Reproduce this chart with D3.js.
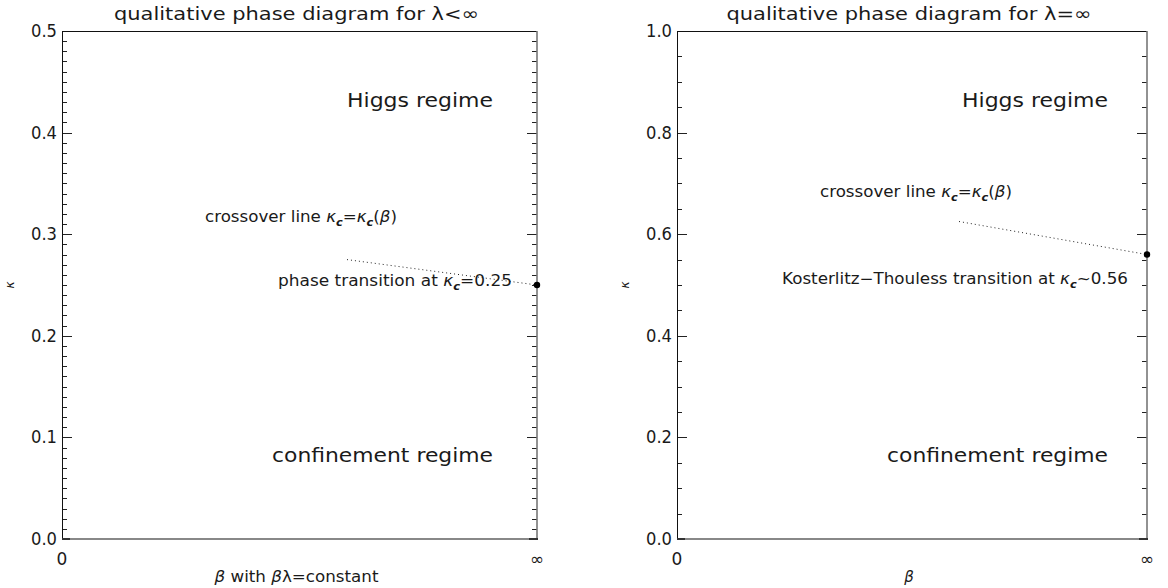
<!DOCTYPE html>
<html>
<head>
<meta charset="utf-8">
<script src="https://cdn.jsdelivr.net/npm/d3@7"></script>
<style>
  html, body { margin: 0; padding: 0; background: #fff; }
  svg text { font-family: "DejaVu Sans", sans-serif; fill: #1a1a1a; }
</style>
</head>
<body>
<svg id="chart" width="1168" height="588"></svg>
<script>
// beta axis runs from 0 to infinity, mapped onto [0, 1]
const betaTicks = [0, 1];
const betaTickLabels = ["0", "\u221e"];

// kappa axes
const kappaTicksLeft = [0.0, 0.1, 0.2, 0.3, 0.4, 0.5];
const kappaTicksRight = [0.0, 0.2, 0.4, 0.6, 0.8, 1.0];

// crossover lines (dotted) ending in the transition point
const crossoverLeft = [
  { beta: 0.6, kappa: 0.275 },
  { beta: 1.0, kappa: 0.25 }
];
const crossoverRight = [
  { beta: 0.6, kappa: 0.625 },
  { beta: 1.0, kappa: 0.56 }
];

const transitionLeft = { beta: 1.0, kappa: 0.25 };
const transitionRight = { beta: 1.0, kappa: 0.56 };

const svg = d3.select("#chart");

// rich text helper: segments with italic / bold / subscript flags
function richText(g, x, y, anchor, size, segs, len) {
  const t = g.append("text")
    .attr("x", x).attr("y", y)
    .attr("text-anchor", anchor)
    .attr("font-size", size);
  if (len) t.attr("textLength", len).attr("lengthAdjust", "spacingAndGlyphs");
  segs.forEach(s => {
    const ts = t.append("tspan").text(s.t);
    if (s.i) ts.attr("font-style", "italic");
    if (s.b) ts.attr("font-weight", "bold");
    if (s.sub) ts.attr("font-size", size * 0.68).attr("dy", size * 0.25);
    if (s.up) ts.attr("dy", -size * 0.25);
  });
  return t;
}

const kc = [
  { t: "\u03ba", i: true },
  { t: "c", i: true, b: true, sub: true }
];
const kcOfBeta = [
  ...kc, { t: "=", up: true }, ...kc, { t: "(", up: true }, { t: "\u03b2", i: true }, { t: ")" }
];

function panel(opts) {
  const g = svg.append("g");
  const x = d3.scaleLinear().domain([0, 1]).range([opts.x0, opts.x1]);
  const y = d3.scaleLinear().domain([0, opts.kmax]).range([opts.y1, opts.y0]);

  // minor and major ticks on left and right sides
  const minor = d3.range(0, opts.kmax + 1e-9, opts.minorStep)
    .filter(v => !opts.ticks.some(t => Math.abs(t - v) < 1e-9));
  const tickG = g.append("g").attr("stroke", "#222").attr("stroke-width", 1);
  [[opts.x0, 1], [opts.x1, -1]].forEach(([ax, dir]) => {
    tickG.selectAll(null).data(minor).enter().append("line")
      .attr("x1", ax).attr("x2", ax + dir * 5)
      .attr("y1", d => Math.round(y(d)) + 0.5).attr("y2", d => Math.round(y(d)) + 0.5);
    tickG.selectAll(null).data(opts.ticks).enter().append("line")
      .attr("x1", ax).attr("x2", ax + dir * 10)
      .attr("y1", d => Math.round(y(d)) + 0.5).attr("y2", d => Math.round(y(d)) + 0.5);
  });

  // frame
  g.append("line").attr("x1", opts.x0).attr("x2", opts.x1)
    .attr("y1", opts.y0 + 0.5).attr("y2", opts.y0 + 0.5)
    .attr("stroke", "#111").attr("stroke-width", 1);
  g.append("line").attr("x1", opts.x0 + 0.5).attr("x2", opts.x0 + 0.5)
    .attr("y1", opts.y0).attr("y2", opts.y1)
    .attr("stroke", "#111").attr("stroke-width", 1);
  g.append("line").attr("x1", opts.x1).attr("x2", opts.x1)
    .attr("y1", opts.y0).attr("y2", opts.y1 + 1)
    .attr("stroke", "#777").attr("stroke-width", 1.6);
  g.append("line").attr("x1", opts.x0).attr("x2", opts.x1 + 1)
    .attr("y1", opts.y1).attr("y2", opts.y1)
    .attr("stroke", "#888").attr("stroke-width", 2);
  // beta ticks at both ends of the bottom axis
  g.selectAll(null).data(betaTicks).enter().append("line")
    .attr("x1", d => x(d) + (d === 0 ? 0 : -8))
    .attr("x2", d => x(d) + (d === 0 ? 8 : 1))
    .attr("y1", opts.y1).attr("y2", opts.y1)
    .attr("stroke", "#333").attr("stroke-width", 2);

  // kappa tick labels
  g.selectAll(null).data(opts.ticks).enter().append("text")
    .attr("x", opts.x0 - 5).attr("y", d => y(d) + 6)
    .attr("text-anchor", "end").attr("font-size", 17)
    .attr("textLength", 26).attr("lengthAdjust", "spacingAndGlyphs")
    .text(d => d.toFixed(1));

  // beta tick labels
  g.selectAll(null).data(betaTicks).enter().append("text")
    .attr("x", d => x(d)).attr("y", opts.y1 + 26)
    .attr("text-anchor", "middle").attr("font-size", 17)
    .text((d, i) => betaTickLabels[i]);

  // axis titles
  g.append("text")
    .attr("transform", `translate(${opts.x0 - 48},${(opts.y0 + opts.y1) / 2}) rotate(-90)`)
    .attr("text-anchor", "middle").attr("font-size", 12).attr("font-style", "italic")
    .text("\u03ba");
  richText(g, (opts.x0 + opts.x1) / 2 - 3, 582, "middle", 15, opts.xTitle, opts.xTitleLen);

  // panel title
  richText(g, (opts.x0 + opts.x1) / 2 - 3, 20, "middle", 18, opts.title, 365);

  // crossover line
  g.append("path")
    .datum(opts.line)
    .attr("d", d3.line().x(d => x(d.beta)).y(d => y(d.kappa)))
    .attr("fill", "none").attr("stroke", "#222").attr("stroke-width", 1)
    .attr("stroke-dasharray", "1,3");
  g.append("circle")
    .attr("cx", x(opts.point.beta)).attr("cy", y(opts.point.kappa))
    .attr("r", 3.2).attr("fill", "#000");

  // annotations
  opts.notes.forEach(n => richText(g, n.x, n.y, n.anchor, n.size, n.segs, n.len));
}

panel({
  x0: 62, x1: 537, y0: 31, y1: 539, kmax: 0.5, minorStep: 0.01,
  ticks: kappaTicksLeft, line: crossoverLeft, point: transitionLeft,
  title: [{ t: "qualitative phase diagram for \u03bb<\u221e" }],
  xTitle: [{ t: "\u03b2", i: true }, { t: " with " }, { t: "\u03b2", i: true }, { t: "\u03bb=constant" }],
  xTitleLen: 164,
  notes: [
    { x: 493, y: 107, anchor: "end", size: 20, len: 146, segs: [{ t: "Higgs regime" }] },
    { x: 205, y: 222, anchor: "start", size: 15, len: 192,
      segs: [{ t: "crossover line " }, ...kcOfBeta] },
    { x: 512, y: 286, anchor: "end", size: 15, len: 234,
      segs: [{ t: "phase transition at " }, ...kc, { t: "=0.25", up: true }] },
    { x: 493, y: 462, anchor: "end", size: 20, len: 221, segs: [{ t: "confinement regime" }] }
  ]
});

panel({
  x0: 677, x1: 1147, y0: 31, y1: 539, kmax: 1.0, minorStep: 0.05,
  ticks: kappaTicksRight, line: crossoverRight, point: transitionRight,
  title: [{ t: "qualitative phase diagram for \u03bb=\u221e" }],
  xTitle: [{ t: "\u03b2", i: true }],
  xTitleLen: null,
  notes: [
    { x: 1108, y: 107, anchor: "end", size: 20, len: 146, segs: [{ t: "Higgs regime" }] },
    { x: 820, y: 197, anchor: "start", size: 15, len: 192,
      segs: [{ t: "crossover line " }, ...kcOfBeta] },
    { x: 782, y: 284, anchor: "start", size: 15, len: 346,
      segs: [{ t: "Kosterlitz\u2212Thouless transition at " }, ...kc, { t: "~0.56", up: true }] },
    { x: 1108, y: 462, anchor: "end", size: 20, len: 221, segs: [{ t: "confinement regime" }] }
  ]
});
</script>
</body>
</html>
